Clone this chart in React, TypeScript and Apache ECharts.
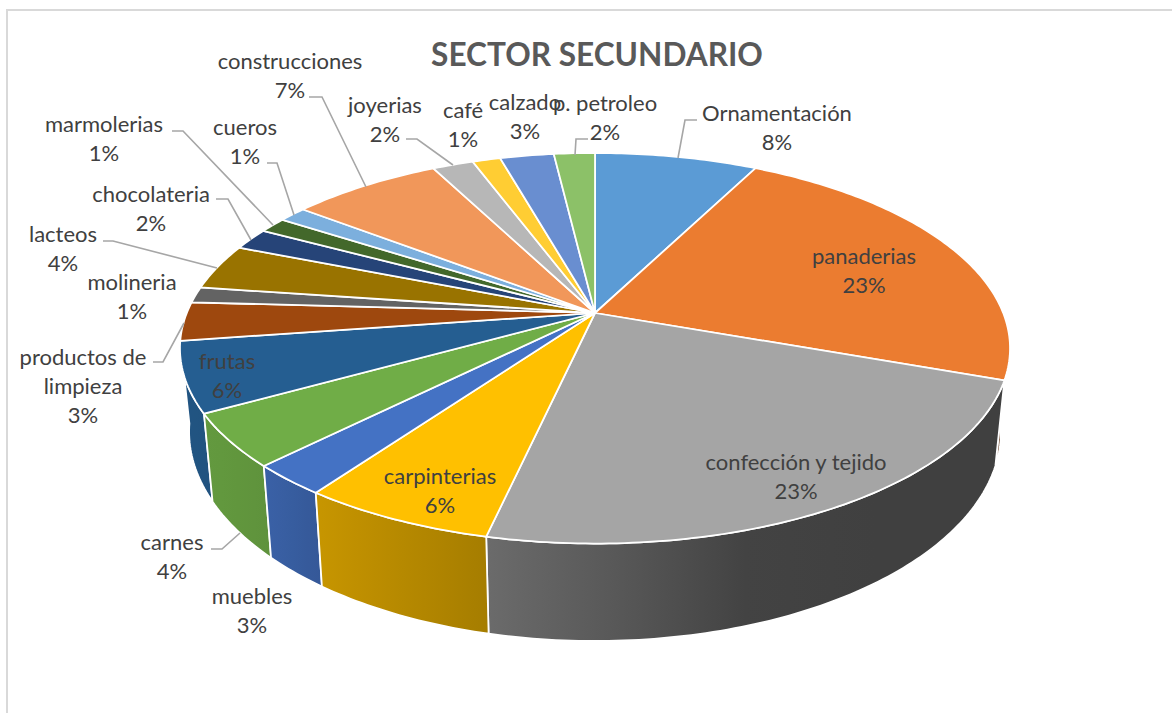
import React, { useEffect, useRef } from "react";
import * as echarts from "echarts";

const titleText = "SECTOR SECUNDARIO";
const categories = ["Ornamentación", "panaderias", "confección y tejido", "carpinterias", "muebles", "carnes", "frutas", "productos de limpieza", "molineria", "lacteos", "chocolateria", "marmolerias", "cueros", "construcciones", "joyerias", "café", "calzado", "p. petroleo"];
const values = [7.55, 22.9, 23.1, 6.4, 2.6, 4.4, 5.8, 3.2, 1.3, 3.8, 1.8, 1.3, 1.3, 7.0, 1.9, 1.3, 2.5, 1.9];
const percentLabels = ["8%", "23%", "23%", "6%", "3%", "4%", "6%", "3%", "1%", "4%", "2%", "1%", "1%", "7%", "2%", "1%", "3%", "2%"];
const colors = ["#5B9BD5", "#EB7C30", "#A5A5A5", "#FFC000", "#4472C4", "#70AD47", "#255E91", "#9E480E", "#636363", "#997300", "#264478", "#43682B", "#7CAFDD", "#F1975A", "#B7B7B7", "#FFCD33", "#698ED0", "#8CC168"];

// label layout: centre x, y of first line
const labelAnchors = [[777, 112], [864, 255], [796, 461], [440, 475], [252, 595], [172, 541], [227, 360], [83, 356], [132, 281], [63, 233], [151, 193], [104, 123], [245, 126], [290, 60], [385, 104], [463, 109], [525, 101], [605, 102]];
const labelWraps: Record<number, string> = { 7: "productos de\nlimpieza" };
const leaders: Record<number, number[][]> = {
  0: [[697, 120], [685, 120], [678, 158]],
  5: [[211, 549], [222, 549], [240, 533]],
  7: [[153, 362], [163, 362], [184, 323]],
  9: [[103, 241], [113, 241], [217, 268]],
  10: [[216, 199], [228, 199], [251, 240]],
  11: [[172, 131], [183, 131], [273, 225]],
  12: [[267, 163], [277, 163], [294, 215]],
  13: [[309, 97], [322, 97], [366, 187]],
  14: [[406, 139], [417, 139], [453, 165]],
  17: [[588, 139], [576, 139], [575, 155]],
};

// projection of the tilted disc
const CX = 595, Y0 = 313;
const K = -0.1806, B = 188.9, A = 408.2;
const LINE = 29;
const FONT = "Lato";

function project(share: number): number[] {
  const t = share * 2 * Math.PI;
  const u = Math.sin(t), v = -Math.cos(t);
  const d = 1 + K * v;
  return [CX + (A * u) / d, Y0 + (B * v) / d];
}
function lower(p: number[]): number[] {
  return [CX + (p[0] - CX) * 0.978, p[1] + 58 + 0.0726 * p[1]];
}
function arc(a: number, b: number): number[][] {
  const n = Math.max(4, Math.ceil((b - a) * 400));
  const pts: number[][] = [];
  for (let i = 0; i <= n; i++) pts.push(project(a + ((b - a) * i) / n));
  return pts;
}
const shade = [[180, 0.9], [265, 0.85], [316, 0.78], [487, 0.65], [600, 0.55], [760, 0.39], [1010, 0.39]];
function factor(x: number): number {
  if (x <= shade[0][0]) return shade[0][1];
  for (let i = 1; i < shade.length; i++) {
    if (x <= shade[i][0]) {
      const [x0, f0] = shade[i - 1], [x1, f1] = shade[i];
      return f0 + ((f1 - f0) * (x - x0)) / (x1 - x0);
    }
  }
  return shade[shade.length - 1][1];
}
function darker(hex: string, f: number): string {
  const n = parseInt(hex.slice(1), 16);
  const c = (s: number) => Math.round(((n >> s) & 255) * f);
  return `rgb(${c(16)},${c(8)},${c(0)})`;
}

const starts: number[] = [];
const ends: number[] = [];
{
  const total = values.reduce((s, v) => s + v, 0);
  let run = 0;
  values.forEach((v) => {
    starts.push(run / total);
    run += v;
    ends.push(run / total);
  });
}
const sliceData = values.map((v, i) => [starts[i], ends[i], v]);

export default function App() {
  const ref = useRef<HTMLDivElement>(null);
  useEffect(() => {
    document.body.style.margin = "0";
    const chart = echarts.init(ref.current!, undefined, { renderer: "svg" });
    chart.setOption({
      animation: false,
      backgroundColor: "#ffffff",
      title: {
        text: titleText,
        left: 592,
        top: 33,
        textAlign: "center",
        textStyle: { color: "#595959", fontFamily: FONT, fontWeight: "bold", fontSize: 31.6 },
      },
      graphic: [
        { type: "rect", silent: true, z: 0, shape: { x: 7, y: 10, width: 1300, height: 800 }, style: { fill: "none", stroke: "#d9d9d9", lineWidth: 2 } },
      ],
      series: [
        {
          type: "custom", coordinateSystem: "none", z: 1, silent: true, data: sliceData,
          renderItem: (p: any, api: any) => {
            const a = api.value(0), b = api.value(1);
            const top = arc(a, b);
            const bot = top.map(lower).reverse();
            const pts = top.concat(bot);
            const xs = pts.map((q) => q[0]);
            const x0 = Math.min(...xs), x1 = Math.max(...xs);
            const colorStops = [0, 0.25, 0.5, 0.75, 1].map((o) => ({ offset: o, color: darker(colors[p.dataIndex], factor(x0 + (x1 - x0) * o)) }));
            // nearer walls are painted over farther ones
            const depth = -Math.cos((a + b) * Math.PI);
            return {
              type: "polygon",
              z2: Math.round(depth * 1000) + 1000,
              shape: { points: pts },
              style: { fill: { type: "linear", x: 0, y: 0, x2: 1, y2: 0, colorStops }, stroke: "#ffffff", lineWidth: 1.75 },
            };
          },
        },
        {
          type: "custom", coordinateSystem: "none", z: 2, silent: true, data: sliceData,
          renderItem: (p: any, api: any) => ({
            type: "polygon",
            shape: { points: [[CX, Y0], ...arc(api.value(0), api.value(1))] },
            style: { fill: colors[p.dataIndex], stroke: "#ffffff", lineWidth: 1.75 },
          }),
        },
        {
          type: "custom", coordinateSystem: "none", z: 3, silent: true, data: sliceData,
          renderItem: (p: any) => {
            const i = p.dataIndex;
            const name = labelWraps[i] || categories[i];
            const lines = name.split("\n").length + 1;
            const [cx, y] = labelAnchors[i];
            const children: any[] = [];
            if (leaders[i] && leaders[i].length) {
              children.push({ type: "polyline", shape: { points: leaders[i] }, style: { fill: "none", stroke: "#a6a6a6", lineWidth: 1.6 } });
            }
            children.push({
              type: "text",
              x: cx,
              y: y + ((lines - 1) * LINE) / 2,
              style: { text: `${name}\n${percentLabels[i]}`, align: "center", verticalAlign: "middle", fill: "#404040", fontFamily: FONT, fontSize: 22, lineHeight: LINE },
            });
            return { type: "group", children };
          },
        },
      ],
    });
    return () => chart.dispose();
  }, []);
  return <div ref={ref} style={{ position: "fixed", left: 0, top: 0, width: 1172, height: 713 }} />;
}
